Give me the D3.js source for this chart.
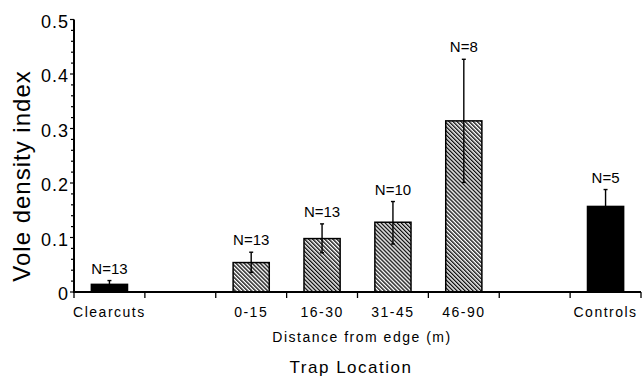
<!DOCTYPE html>
<html lang="en">
  <head>
    <meta charset="UTF-8" />
    <title>Vole density index</title>
    <script src="https://d3js.org/d3.v7.min.js"></script>
    <style>
      body {
        margin: 0;
        background: #fff;
      }
      svg {
        display: block;
        font-family: "Liberation Sans", Arial, sans-serif;
      }
    </style>
  </head>
  <body>
    <svg width="643" height="385"></svg>

    <script>
      // slots along the x axis (two empty ones are gaps)
      const slots = ["Clearcuts", "gap1", "0-15", "16-30", "31-45", "46-90", "gap2", "Controls"];
      const slotLabels = ["Clearcuts", "", "0-15", "16-30", "31-45", "46-90", "", "Controls"];

      const categories = ["Clearcuts", "0-15", "16-30", "31-45", "46-90", "Controls"];
      const means = [0.014, 0.054, 0.098, 0.128, 0.314, 0.157];
      const errLow = [0.006, 0.036, 0.072, 0.088, 0.201, 0.126];
      const errHigh = [0.021, 0.073, 0.125, 0.166, 0.427, 0.188];
      const sampleSizes = [13, 13, 13, 10, 8, 5];
      const fills = ["solid", "hatch", "hatch", "hatch", "hatch", "solid"];

      const yTicks = [0, 0.1, 0.2, 0.3, 0.4, 0.5];
      const yTickLabels = ["0", "0.1", "0.2", "0.3", "0.4", "0.5"];

      const data = categories.map((c, i) => ({
        category: c,
        mean: means[i],
        lo: errLow[i],
        hi: errHigh[i],
        n: sampleSizes[i],
        fill: fills[i],
      }));

      const svg = d3.select("svg");

      const x = d3.scaleBand().domain(slots).range([74, 641]).padding(0);
      const y = d3.scaleLinear().domain([0, 0.5]).range([292, 19.5]);
      const barW = x.bandwidth() * 0.51;
      const cx = (d) => x(d) + x.bandwidth() / 2;

      const defs = svg.append("defs");
      const pat = defs
        .append("pattern")
        .attr("id", "hatch")
        .attr("patternUnits", "userSpaceOnUse")
        .attr("width", 2.85)
        .attr("height", 10)
        .attr("patternTransform", "rotate(-45)");
      pat.append("rect").attr("width", 2.85).attr("height", 10).attr("fill", "#fff");
      pat
        .append("line")
        .attr("x1", 0.7)
        .attr("x2", 0.7)
        .attr("y1", 0)
        .attr("y2", 10)
        .attr("stroke", "#000")
        .attr("stroke-width", 1.3);

      // bars
      svg
        .selectAll(".bar")
        .data(data)
        .enter()
        .append("rect")
        .attr("class", "bar")
        .attr("x", (d) => cx(d.category) - barW / 2)
        .attr("y", (d) => y(d.mean))
        .attr("width", barW)
        .attr("height", (d) => y(0) - y(d.mean))
        .attr("fill", (d) => (d.fill === "hatch" ? "url(#hatch)" : "#000"))
        .attr("stroke", "#000")
        .attr("stroke-width", 1.5);

      // error bars
      const eb = svg.append("g").attr("stroke", "#000").attr("stroke-width", 1.4);
      data.forEach((d) => {
        const xc = cx(d.category);
        eb.append("line").attr("x1", xc).attr("x2", xc).attr("y1", y(d.lo)).attr("y2", y(d.hi));
        eb.append("line").attr("x1", xc - 2).attr("x2", xc + 2).attr("y1", y(d.hi)).attr("y2", y(d.hi));
        eb.append("line").attr("x1", xc - 2).attr("x2", xc + 2).attr("y1", y(d.lo)).attr("y2", y(d.lo));
      });

      // N labels
      svg
        .selectAll(".nlab")
        .data(data)
        .enter()
        .append("text")
        .attr("class", "nlab")
        .attr("x", (d) => cx(d.category))
        .attr("y", (d) => y(d.hi) - 7)
        .attr("text-anchor", "middle")
        .attr("font-size", 15)
        .text((d) => "N=" + d.n);

      // x axis
      const xAxis = svg.append("g").attr("transform", "translate(0,292)");
      xAxis
        .append("line")
        .attr("x1", 74)
        .attr("x2", 641)
        .attr("stroke", "#000")
        .attr("stroke-width", 2);
      const bounds = slots.map((s) => x(s)).concat([x.range()[1]]);
      xAxis
        .selectAll(".xtick")
        .data(bounds)
        .enter()
        .append("line")
        .attr("x1", (d) => d)
        .attr("x2", (d) => d)
        .attr("y1", 0)
        .attr("y2", 6)
        .attr("stroke", "#000")
        .attr("stroke-width", 1.3);
      xAxis
        .selectAll(".xlab")
        .data(slots)
        .enter()
        .append("text")
        .attr("x", (d) => cx(d))
        .attr("y", 25)
        .attr("text-anchor", "middle")
        .attr("font-size", 14)
        .attr("letter-spacing", 1.5)
        .text((d, i) => slotLabels[i]);

      // y axis
      const yAxis = svg.append("g").attr("transform", "translate(74,0)");
      yAxis
        .append("line")
        .attr("y1", y(0) + 1)
        .attr("y2", y(0.5))
        .attr("stroke", "#000")
        .attr("stroke-width", 2);
      const minor = d3.range(0, 0.5001, 0.02);
      yAxis
        .selectAll(".ytick")
        .data(minor)
        .enter()
        .append("line")
        .attr("x1", (d, i) => (i % 5 === 0 ? -4 : -3))
        .attr("x2", 0)
        .attr("y1", (d) => y(d))
        .attr("y2", (d) => y(d))
        .attr("stroke", "#000")
        .attr("stroke-width", 1.2);
      yAxis
        .selectAll(".ylab")
        .data(yTicks)
        .enter()
        .append("text")
        .attr("x", -5)
        .attr("y", (d) => y(d))
        .attr("dy", "0.45em")
        .attr("text-anchor", "end")
        .attr("font-size", 18)
        .attr("letter-spacing", 1)
        .text((d, i) => yTickLabels[i]);

      // axis titles
      svg
        .append("text")
        .attr("transform", "translate(29.5,176) rotate(-90)")
        .attr("text-anchor", "middle")
        .attr("font-size", 24)
        .attr("letter-spacing", 1)
        .text("Vole density index");
      svg
        .append("text")
        .attr("x", 362)
        .attr("y", 342)
        .attr("text-anchor", "middle")
        .attr("font-size", 14)
        .attr("letter-spacing", 1.5)
        .text("Distance from edge (m)");
      svg
        .append("text")
        .attr("x", 351)
        .attr("y", 373)
        .attr("text-anchor", "middle")
        .attr("font-size", 17)
        .attr("letter-spacing", 1.5)
        .text("Trap Location");
    </script>
  </body>
</html>
